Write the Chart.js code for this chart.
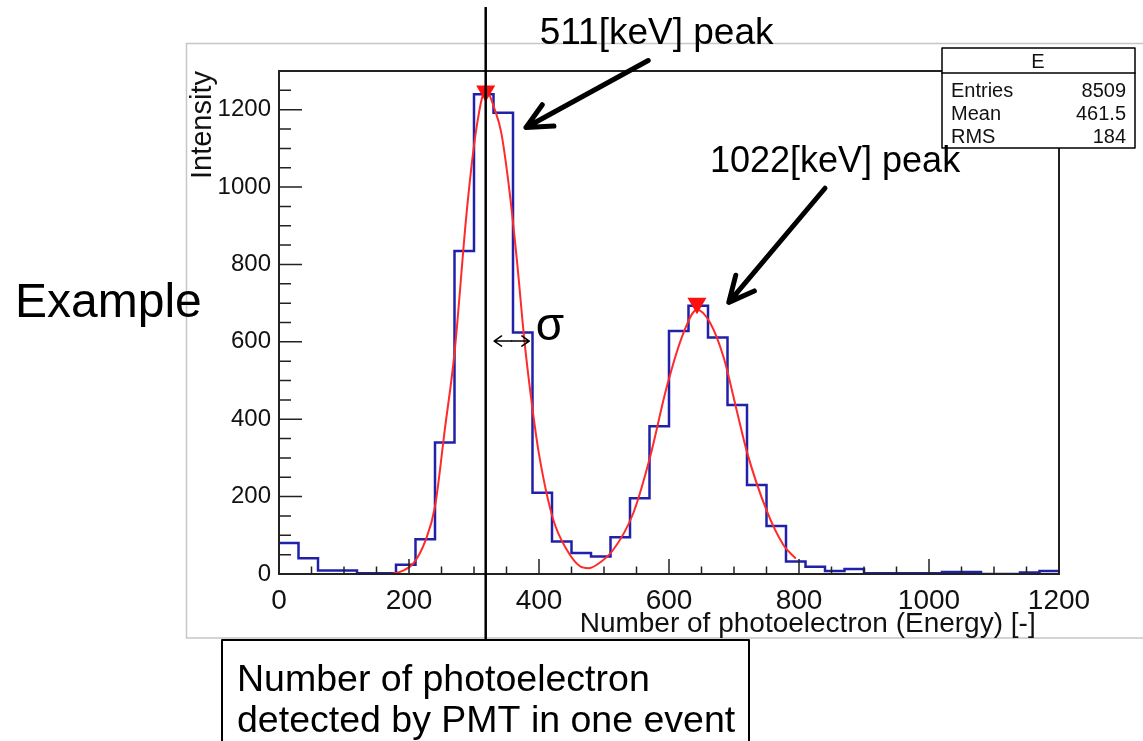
<!DOCTYPE html>
<html>
<head>
<meta charset="utf-8">
<title>Photoelectron spectrum</title>
<script src="https://cdn.jsdelivr.net/npm/chart.js@4.4.1/dist/chart.umd.min.js"></script>
<style>
  html, body { margin: 0; padding: 0; background: #fff; }
  #wrap { position: relative; width: 1143px; height: 741px; }
</style>
</head>
<body>
<div id="wrap"><canvas id="spectrum"></canvas></div>
<script>
/* =========================================================
   DATA
========================================================= */

// histogram "E": counts per 30-photoelectron bin, 0 .. 1200
const BIN_WIDTH = 30;
const histCounts = [
  80, 41, 9, 9, 2, 2, 24, 90, 340, 835,
  1240, 1192, 624, 210, 84, 54, 45, 95, 196, 382,
  628, 693, 611, 437, 230, 124, 32, 19, 8, 13,
  2, 2, 2, 2, 5, 5, 0, 0, 4, 8
];

// double gaussian fit
const fitX = [172, 190, 207, 225, 240, 255, 270, 289, 304, 318, 332, 342, 355, 366, 378, 389, 400, 422, 443, 463, 476, 489, 514, 545, 571, 596, 622, 643, 663, 684, 704, 720, 750, 776, 795];
const fitY = [0, 8, 28, 85, 174, 372, 571, 940, 1155, 1250, 1200, 1140, 984, 811, 596, 440, 310, 140, 62, 20, 15, 24, 62, 157, 303, 480, 622, 683, 650, 560, 424, 315, 165, 75, 40];

// found peaks (red markers)
const peakX = [318, 643];
const peakY = [1248, 700];

const xTicks = [0, 200, 400, 600, 800, 1000, 1200];
const yTicks = [0, 200, 400, 600, 800, 1000, 1200];

const statsLabels = ["Entries", "Mean", "RMS"];
const statsValues = ["8509", "461.5", "184"];

const FONT = "'Liberation Sans', Arial, Helvetica, sans-serif";

/* =========================================================
   HELPERS
========================================================= */

function arrow(ctx, x1, y1, x2, y2, head, width, spread) {
  const a = Math.atan2(y2 - y1, x2 - x1);
  ctx.lineWidth = width;
  ctx.beginPath();
  ctx.moveTo(x1, y1);
  ctx.lineTo(x2, y2);
  ctx.moveTo(x2 - head * Math.cos(a - spread), y2 - head * Math.sin(a - spread));
  ctx.lineTo(x2, y2);
  ctx.lineTo(x2 - head * Math.cos(a + spread), y2 - head * Math.sin(a + spread));
  ctx.stroke();
}

function text(ctx, str, x, y, size, align) {
  ctx.font = `${size}px ${FONT}`;
  ctx.textAlign = align || "left";
  ctx.textBaseline = "alphabetic";
  ctx.fillText(str, x, y);
}

/* =========================================================
   DECORATION PLUGIN (ROOT frame, inner ticks, notes)
========================================================= */

const rootDecor = {
  id: "rootDecor",

  beforeDraw(chart) {
    const ctx = chart.ctx;
    ctx.save();
    ctx.fillStyle = "#fff";
    ctx.fillRect(0, 0, chart.width, chart.height);
    // ROOT canvas border
    ctx.strokeStyle = "#c6c6c6";
    ctx.lineWidth = 1.5;
    ctx.strokeRect(186.5, 43.5, 1000, 594.5);
    ctx.restore();
  },

  afterDatasetsDraw(chart) {
    const ctx = chart.ctx;
    const xs = chart.scales.x;
    const ys = chart.scales.y;
    const area = chart.chartArea;
    ctx.save();
    ctx.strokeStyle = "#222";
    ctx.lineWidth = 1.5;

    // x ticks: minor every 50, major every 200, pointing up
    ctx.beginPath();
    for (let v = 0; v <= 1200; v += 50) {
      const px = xs.getPixelForValue(v);
      const len = v % 200 === 0 ? 15 : 7.5;
      ctx.moveTo(px, area.bottom);
      ctx.lineTo(px, area.bottom - len);
    }
    // y ticks: pointing right
    for (let v = 0; v <= 1300; v += 50) {
      const py = ys.getPixelForValue(v);
      const len = v % 200 === 0 ? 23 : 12;
      ctx.moveTo(area.left, py);
      ctx.lineTo(area.left + len, py);
    }
    ctx.stroke();

    // frame
    ctx.lineWidth = 2;
    ctx.strokeRect(area.left, area.top, area.right - area.left, area.bottom - area.top);
    ctx.restore();
  },

  afterDraw(chart) {
    const ctx = chart.ctx;
    const xs = chart.scales.x;
    const ys = chart.scales.y;
    const X = v => xs.getPixelForValue(v);
    const Y = v => ys.getPixelForValue(v);
    ctx.save();
    ctx.fillStyle = "#000";
    ctx.strokeStyle = "#000";
    ctx.lineCap = "round";
    ctx.lineJoin = "round";

    // stats box
    ctx.fillStyle = "#fff";
    ctx.fillRect(942, 48, 193, 100);
    ctx.lineWidth = 1.5;
    ctx.strokeRect(942, 48, 193, 100);
    ctx.beginPath();
    ctx.moveTo(942, 73);
    ctx.lineTo(1135, 73);
    ctx.stroke();
    ctx.fillStyle = "#111";
    text(ctx, "E", 1038, 68, 20, "center");
    statsLabels.forEach((lab, i) => {
      text(ctx, lab, 951, 97 + i * 23, 20, "left");
      text(ctx, statsValues[i], 1126, 97 + i * 23, 20, "right");
    });

    // slide annotations
    ctx.fillStyle = "#000";
    text(ctx, "511[keV] peak", X(401), Y(1371), 37);
    text(ctx, "1022[keV] peak", X(663), Y(1038), 36);
    text(ctx, "\u03c3", X(395), Y(606), 46);
    text(ctx, "Example", 15, 317, 48);

    ctx.strokeStyle = "#000";
    arrow(ctx, X(568), Y(1327), X(380), Y(1154), 28, 5, 0.45);
    arrow(ctx, X(840), Y(997), X(692), Y(702), 28, 5, 0.45);

    // sigma double arrow
    arrow(ctx, X(358), Y(602), X(331), Y(602), 9, 1.5, 0.6);
    arrow(ctx, X(358), Y(602), X(385), Y(602), 9, 1.5, 0.6);

    // mean line of the 511 keV peak
    ctx.lineCap = "butt";
    ctx.lineWidth = 2.5;
    ctx.beginPath();
    ctx.moveTo(X(peakX[0]), 7);
    ctx.lineTo(X(peakX[0]), 640);
    ctx.stroke();

    // bottom note box
    ctx.lineWidth = 2;
    ctx.beginPath();
    ctx.moveTo(222, 745);
    ctx.lineTo(222, 640);
    ctx.lineTo(749, 640);
    ctx.lineTo(749, 745);
    ctx.stroke();
    text(ctx, "Number of photoelectron", 237, 691, 37.5);
    text(ctx, "detected by PMT in one event", 237, 732, 37.5);

    ctx.restore();
  }
};

/* =========================================================
   CHART
========================================================= */

const histPoints = histCounts.map((c, i) => ({ x: i * BIN_WIDTH, y: c }));
histPoints.push({ x: histCounts.length * BIN_WIDTH, y: histCounts[histCounts.length - 1] });

const fitPoints = fitX.map((x, i) => ({ x: x, y: fitY[i] }));
const peakPoints = peakX.map((x, i) => ({ x: x, y: peakY[i] }));

const spectrumChart = new Chart(
  document.getElementById("spectrum"),
  {
    type: "line",
    data: {
      datasets: [
        {
          label: "peaks",
          data: peakPoints,
          showLine: false,
          pointStyle: "triangle",
          rotation: 180,
          pointRadius: 11,
          pointBackgroundColor: "#ff1010",
          pointBorderWidth: 0,
          order: 0
        },
        {
          label: "fit",
          data: fitPoints,
          borderColor: "#ff2a2a",
          borderWidth: 2,
          pointRadius: 0,
          cubicInterpolationMode: "monotone",
          order: 1
        },
        {
          label: "E",
          data: histPoints,
          borderColor: "#2020a8",
          borderWidth: 2.5,
          pointRadius: 0,
          stepped: "before",
          order: 2
        }
      ]
    },
    options: {
      responsive: true,
      maintainAspectRatio: false,
      animation: false,
      layout: {
        padding: { left: 186, right: 84, top: 71, bottom: 103 }
      },
      plugins: {
        legend: { display: false },
        tooltip: { enabled: false }
      },
      scales: {
        x: {
          type: "linear",
          min: 0,
          max: 1200,
          afterFit: s => { s.height = 64; },
          afterBuildTicks: s => { s.ticks = xTicks.map(v => ({ value: v })); },
          grid: { display: false, drawTicks: false },
          border: { display: false },
          ticks: {
            padding: 10,
            color: "#111",
            maxRotation: 0,
            callback: v => String(v),
            font: { family: FONT, size: 28 }
          },
          title: {
            display: true,
            // trailing spaces pull the right-aligned title in from the frame edge
            text: "Number of photoelectron (Energy) [-]   ",
            align: "end",
            color: "#111",
            padding: { top: 0, bottom: -3 },
            font: { family: FONT, size: 28 }
          }
        },
        y: {
          type: "linear",
          min: 0,
          max: 1300,
          afterFit: s => { s.width = 93; },
          afterBuildTicks: s => { s.ticks = yTicks.map(v => ({ value: v })); },
          grid: { display: false, drawTicks: false },
          border: { display: false },
          ticks: {
            padding: 8,
            color: "#111",
            callback: v => String(v),
            font: { family: FONT, size: 24 }
          },
          title: {
            display: true,
            text: "Intensity",
            align: "end",
            color: "#111",
            padding: { top: 0, bottom: 0 },
            font: { family: FONT, size: 29 }
          }
        }
      }
    },
    plugins: [rootDecor]
  }
);
</script>
</body>
</html>
